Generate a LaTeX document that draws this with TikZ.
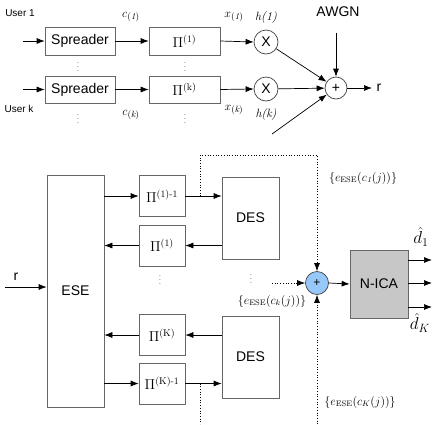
\documentclass[tikz,border=0pt]{standalone}
\usepackage{amsmath}
\usepackage{fontspec}
\setsansfont{Liberation Sans}
\usetikzlibrary{arrows.meta}
\definecolor{sumblue}{RGB}{150,200,250}

\begin{document}
\begin{tikzpicture}[x=1pt,y=-1pt,line width=0.7pt,
  blk/.style={rectangle,draw=black!60,inner sep=0pt,font=\sffamily\fontsize{14}{14}\selectfont},
  pibox/.style={rectangle,draw=black!60,inner sep=0pt,minimum width=46pt,minimum height=41pt,font=\fontsize{14}{14}\selectfont},
  mul/.style={circle,draw=black!75,inner sep=0pt,minimum size=24pt,font=\sffamily\fontsize{14}{14}\selectfont},
  arr/.style={-{Latex[length=8pt,width=6pt]}},
  lbl/.style={inner sep=0pt,font=\fontsize{13}{13}\selectfont},
  txt/.style={inner sep=0pt,font=\sffamily\fontsize{10}{10}\selectfont},
  vd/.style={inner sep=0pt,font=\fontsize{8}{8}\selectfont}]
\useasboundingbox (0,0) rectangle (434,424);
% transmitter
\node[blk,minimum width=70pt,minimum height=28pt] (sp1) at (80,41) {Spreader};
\node[blk,minimum width=70pt,minimum height=27pt] (spk) at (80,89.5) {Spreader};
\node[pibox,minimum width=71pt,minimum height=28pt] (pi1) at (184.5,41) {$\Pi^{\mathrm{(1)}}$};
\node[pibox,minimum width=71pt,minimum height=27pt] (pik) at (184.5,89.5) {$\Pi^{\mathrm{(k)}}$};
\node[mul] (m1) at (266,42) {X};
\node[mul] (mk) at (266,89) {X};
\node[mul,minimum size=22pt] (add) at (336,88) {+};
\node[txt] (user1) at (20,13) {User 1};
\node[txt] (userk) at (19,109) {User k};
\node[lbl] (c1) at (131,17) {$c_{\mathit{(1)}}$};
\node[lbl] (ck) at (131,115) {$c_{\mathit{(k)}}$};
\node[lbl] (x1) at (234,17) {$x_{\mathit{(1)}}$};
\node[lbl] (xk) at (234,110) {$x_{\mathit{(k)}}$};
\node[lbl,font=\fontsize{12}{12}\selectfont] (h1) at (266,18) {\itshape h(1)};
\node[lbl,font=\fontsize{12}{12}\selectfont] (hk) at (266,115) {\itshape h(k)};
\node[txt,font=\sffamily\fontsize{14}{14}\selectfont] (awgnlbl) at (338,12) {AWGN};
\node[txt,font=\sffamily\fontsize{14}{14}\selectfont] (rlbl) at (379,88) {r};
\node[vd] (dots1) at (78,64) {$\vdots$};
\node[vd] (dots2) at (78,116) {$\vdots$};
\node[vd] (dots3) at (185,64) {$\vdots$};
\node[vd] (dots4) at (185,116) {$\vdots$};
\coordinate (u1) at (23,41);
\coordinate (uk) at (23,89.5);
\coordinate (in3) at (272,134);
\coordinate (awgn) at (336,33);
\coordinate (rout) at (372,88);
\draw[arr] (u1) -- (sp1.west);
\draw[arr] (uk) -- (spk.west);
\draw[arr] (sp1.east) -- (pi1.west);
\draw[arr] (spk.east) -- (pik.west);
\draw[arr] (pi1.east) -- (m1.west);
\draw[arr] (pik.east) -- (mk.west);
\draw[arr] (m1) -- (add);
\draw[arr] (mk) -- (add);
\draw[arr] (in3) -- (add);
\draw[arr] (awgn) -- (add.north);
\draw[arr] (add.east) -- (rout);
% receiver
\node[blk,minimum width=57pt,minimum height=232pt] (ese) at (75.5,291) {ESE};
\node[pibox] (pinv1) at (162,196) {$\Pi^{\mathrm{(1)\text{-}1}}$};
\node[pibox] (pif1) at (162,245.5) {$\Pi^{\mathrm{(1)}}$};
\node[pibox] (pifk) at (162,335) {$\Pi^{\mathrm{(K)}}$};
\node[pibox] (pinvk) at (162,383.5) {$\Pi^{\mathrm{(K)\text{-}1}}$};
\node[blk,minimum width=57pt,minimum height=82pt] (des1) at (250.5,218) {DES};
\node[blk,minimum width=57pt,minimum height=82pt] (desk) at (250.5,357) {DES};
\node[circle,draw=black!75,fill=sumblue,inner sep=0pt,minimum size=23pt,font=\sffamily\fontsize{12}{12}\selectfont] (sum) at (317,283) {+};
\node[blk,fill=black!22,minimum width=58pt,minimum height=68pt] (nica) at (379,284) {N-ICA};
\node[vd] (dots5) at (160,277) {$\vdots$};
\node[vd] (dots6) at (251,276) {$\vdots$};
\node[txt,font=\sffamily\fontsize{14}{14}\selectfont] (rin) at (16,277) {r};
\node[lbl,font=\fontsize{12}{12}\selectfont] (e1) at (363,178) {$\{e_{\mathrm{ESE}}(c_{\mathit{1}}(j))\}$};
\node[lbl,font=\fontsize{12}{12}\selectfont] (ek) at (272,301) {$\{e_{\mathrm{ESE}}(c_{k}(j))\}$};
\node[lbl,font=\fontsize{12}{12}\selectfont] (eK) at (360,402) {$\{e_{\mathrm{ESE}}(c_{K}(j))\}$};
\node[lbl,font=\fontsize{18}{18}\selectfont] (d1) at (421,237) {$\hat{d}_1$};
\node[lbl,font=\fontsize{18}{18}\selectfont] (dK) at (420,323) {$\hat{d}_K$};
\coordinate (r0) at (5,287);
\coordinate (br1) at (200,196);
\coordinate (brk) at (200,383.5);
\coordinate (brkend) at (200,424);
\coordinate (fromk) at (272,283);
\coordinate (fromK) at (317,424);
\draw[arr] (r0) -- (ese.west |- r0);
\draw[arr] (ese.east |- pinv1.west) -- (pinv1.west);
\draw[arr] (pinv1.east) -- (des1.west |- pinv1.east);
\draw[arr] (des1.west |- pif1.east) -- (pif1.east);
\draw[arr] (pif1.west) -- (ese.east |- pif1.west);
\draw[arr] (desk.west |- pifk.east) -- (pifk.east);
\draw[arr] (pifk.west) -- (ese.east |- pifk.west);
\draw[arr] (ese.east |- pinvk.west) -- (pinvk.west);
\draw[arr] (pinvk.east) -- (desk.west |- pinvk.east);
\draw[arr,dotted] (br1) -- ++(0,-41) -| (sum.north);
\draw[dotted] (brk) -- (brkend);
\draw[arr,dotted] (fromk) -- (sum.west);
\draw[arr,dotted] (fromK) -- (sum.south);
\draw[arr] (sum.east) -- (nica.west);
\foreach \y in {260,283,307}
  \draw[arr] (nica.east |- 0,\y) -- (432,\y);
\end{tikzpicture}
\end{document}
